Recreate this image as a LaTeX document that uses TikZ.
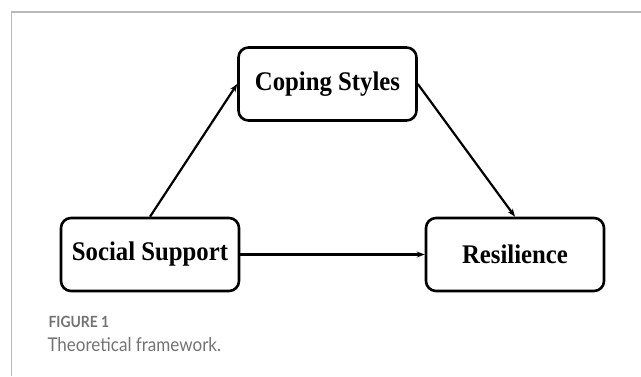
\documentclass[tikz,border=0pt]{standalone}
\usepackage{fontspec}
\usepackage{xcolor}
\usetikzlibrary{arrows.meta}
\setmainfont{Liberation Serif}
\newfontfamily\boxfont[FakeStretch=0.92]{Liberation Serif}
\newfontfamily\captionfont[FakeStretch=0.9]{Lato}
\definecolor{framegray}{RGB}{185,185,185}
\definecolor{captiongray}{RGB}{115,115,115}

\tikzset{
    varbox/.style={draw, line width=2.6bp, rounded corners=10bp,
        minimum width=178bp, minimum height=73bp,
        font=\boxfont\fontsize{27}{30}\selectfont\bfseries},
    pathline/.style={line width=2.2bp, -{Stealth[length=8bp,width=6bp]}}
}

\begin{document}
\begin{tikzpicture}[x=1bp,y=-1bp]
    \useasboundingbox (0,0) rectangle (641,376);

    % Outer frame (top and left only)
    \draw[framegray,line width=1.2bp] (11.5,376) -- (11.5,12) -- (641,12);

    % Variables
    \node[varbox] (coping) at (327.5,84) {Coping Styles};
    \node[varbox] (social) at (150,254.5) {Social Support};
    \node[varbox] (resil) at (515,254.5) {Resilience};

    % Paths
    \draw[pathline] (social.north) -- (coping.west);
    \draw[pathline] (coping.east) -- (resil.north);
    \draw[pathline] (social.east) -- (resil.west);

    % Caption
    \node[anchor=base west,captiongray,font=\captionfont\fontsize{15.5}{18}\selectfont\bfseries] (figlabel) at (45,327) {FIGURE 1};
    \node[anchor=base west,captiongray,font=\captionfont\fontsize{19}{22}\selectfont] (figtitle) at (44,351) {Theoretical framework.};
\end{tikzpicture}
\end{document}
